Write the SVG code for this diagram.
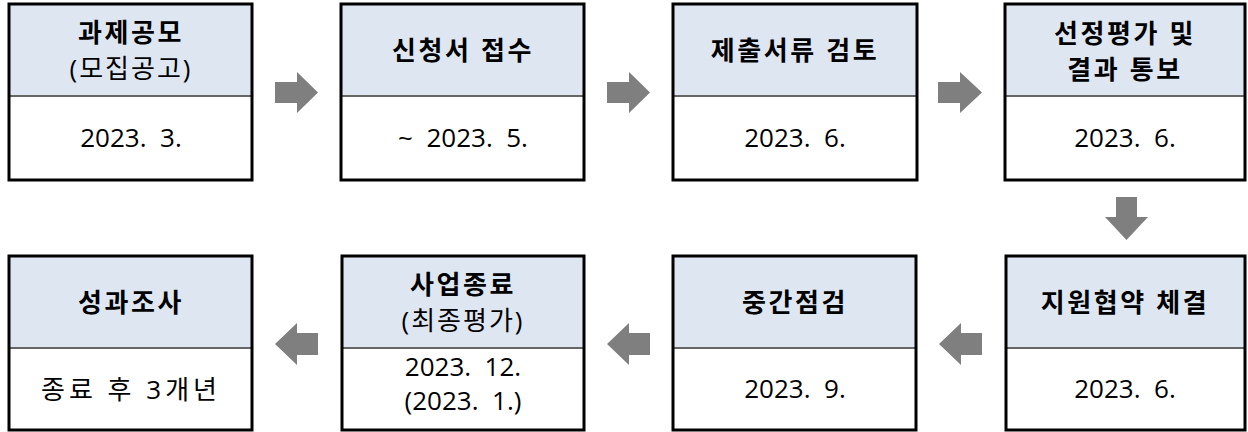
<svg xmlns="http://www.w3.org/2000/svg" width="1248" height="432" viewBox="0 0 1248 432">
<style>
.hd{fill:#dee7f1;stroke:none}
.bx{fill:none;stroke:#000;stroke-width:3}
.dv{stroke:#666;stroke-width:2}
.t{font-family:"Open Sans","Noto Sans CJK KR",sans-serif;font-size:26px;fill:#000;text-anchor:middle}
.b{font-weight:bold;letter-spacing:2.6px}
.s{letter-spacing:2px}
.k{letter-spacing:4px}
.ar{fill:#7f7f7f}
</style>
<rect width="1248" height="432" fill="#fff"/>
<g id="n1">
<rect class="hd" x="9" y="4" width="243" height="92"/><line class="dv" x1="9" y1="96" x2="252" y2="96"/><rect class="bx" x="9" y="4" width="243" height="176"/>
<text class="t b" x="131" y="42">과제공모</text><text class="t s" x="131" y="78">(모집공고)</text>
<text class="t" x="131" y="147" xml:space="preserve">2023.  3.</text>
</g>
<g id="n2">
<rect class="hd" x="341" y="4" width="243" height="92"/><line class="dv" x1="341" y1="96" x2="584" y2="96"/><rect class="bx" x="341" y="4" width="243" height="176"/>
<text class="t b" x="463" y="60">신청서 접수</text>
<text class="t" x="463" y="147" xml:space="preserve">~  2023.  5.</text>
</g>
<g id="n3">
<rect class="hd" x="673" y="4" width="244" height="92"/><line class="dv" x1="673" y1="96" x2="917" y2="96"/><rect class="bx" x="673" y="4" width="244" height="176"/>
<text class="t b" x="795" y="60">제출서류 검토</text>
<text class="t" x="795" y="147" xml:space="preserve">2023.  6.</text>
</g>
<g id="n4">
<rect class="hd" x="1005" y="4" width="240" height="92"/><line class="dv" x1="1005" y1="96" x2="1245" y2="96"/><rect class="bx" x="1005" y="4" width="240" height="176"/>
<text class="t b" x="1125" y="43">선정평가 및</text><text class="t b" x="1125" y="79">결과 통보</text>
<text class="t" x="1125" y="147" xml:space="preserve">2023.  6.</text>
</g>
<g id="n5">
<rect class="hd" x="1006" y="256" width="239" height="92"/><line class="dv" x1="1006" y1="348" x2="1245" y2="348"/><rect class="bx" x="1006" y="256" width="239" height="174"/>
<text class="t b" x="1125" y="312">지원협약 체결</text>
<text class="t" x="1125" y="398" xml:space="preserve">2023.  6.</text>
</g>
<g id="n6">
<rect class="hd" x="673" y="256" width="243" height="92"/><line class="dv" x1="673" y1="348" x2="916" y2="348"/><rect class="bx" x="673" y="256" width="243" height="174"/>
<text class="t b" x="795" y="312">중간점검</text>
<text class="t" x="795" y="398" xml:space="preserve">2023.  9.</text>
</g>
<g id="n7">
<rect class="hd" x="342" y="256" width="242" height="92"/><line class="dv" x1="342" y1="348" x2="584" y2="348"/><rect class="bx" x="342" y="256" width="242" height="174"/>
<text class="t b" x="463" y="294">사업종료</text><text class="t s" x="463" y="330">(최종평가)</text>
<text class="t" x="463" y="376" xml:space="preserve">2023.  12.</text><text class="t" x="463" y="410" xml:space="preserve">(2023.  1.)</text>
</g>
<g id="n8">
<rect class="hd" x="9" y="256" width="243" height="92"/><line class="dv" x1="9" y1="348" x2="252" y2="348"/><rect class="bx" x="9" y="256" width="243" height="174"/>
<text class="t b" x="131" y="312">성과조사</text>
<text class="t k" x="131" y="399">종료 후 3개년</text>
</g>
<g id="connectors">
<polygon class="ar" points="275,82 297,82 297,72 318,92.5 297,113 297,103 275,103"/>
<polygon class="ar" points="607,82 629,82 629,72 650,92.5 629,113 629,103 607,103"/>
<polygon class="ar" points="938,82 960,82 960,72 982,92.5 960,113 960,103 938,103"/>
<polygon class="ar" points="1116,197 1137,197 1137,217 1148,217 1126.5,240 1105,217 1116,217"/>
<polygon class="ar" points="982,333 961,333 961,323 939,344 961,365 961,355 982,355"/>
<polygon class="ar" points="650,333 629,333 629,323 607,344 629,365 629,355 650,355"/>
<polygon class="ar" points="318,333 297,333 297,323 275,344 297,365 297,355 318,355"/>
</g>
</svg>
